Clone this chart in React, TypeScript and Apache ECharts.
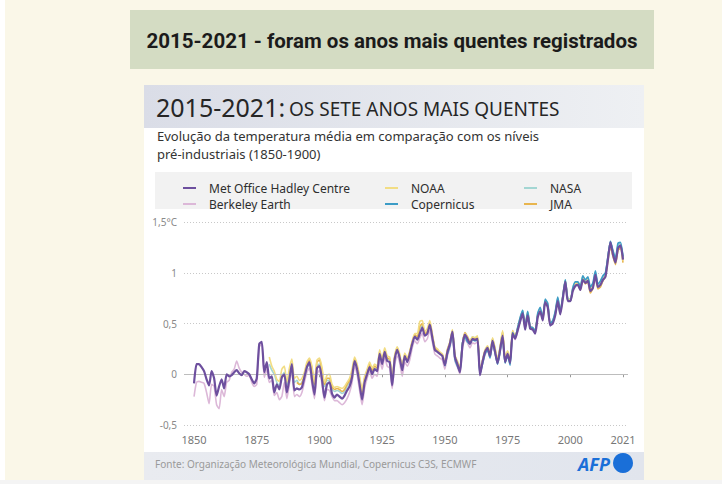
import React, { useEffect, useRef } from "react";
import * as echarts from "echarts";

const xTickYears = [1850, 1875, 1900, 1925, 1950, 1975, 2000, 2021];

const seriesNames = ["Met Office Hadley Centre", "Berkeley Earth", "NOAA", "Copernicus", "NASA", "JMA"];

const metOfficeStart = 1850;
const metOffice = [
  -0.09, 0.10, 0.10, 0.07, 0.03, -0.05, -0.11, 0.03, -0.04, -0.21,
  -0.12, -0.05, -0.14, 0.00, -0.02, -0.01, 0.02, 0.04, 0.01, -0.01,
  0.03, 0.02, 0.00, -0.05, -0.09, -0.04, 0.30, 0.32, 0.02, 0.12,
  -0.04, -0.02, -0.18, -0.10, -0.15, -0.03, 0.00, -0.18, -0.05, 0.10,
  -0.16, -0.14, -0.15, -0.13, -0.03, 0.07, 0.12, -0.05, -0.20, 0.06,
  0.08, -0.05, -0.23, -0.10, -0.08, -0.19, -0.23, -0.20, -0.22, -0.24,
  -0.21, -0.16, -0.12, -0.03, 0.13, 0.05, -0.10, -0.25, -0.08, 0.00,
  0.07, 0.00, 0.05, 0.03, 0.20, 0.10, 0.22, 0.13, 0.12, -0.11,
  0.15, 0.24, 0.16, 0.04, 0.18, 0.12, 0.20, 0.30, 0.37, 0.34,
  0.40, 0.46, 0.38, 0.40, 0.49, 0.36, 0.24, 0.22, 0.20, 0.18,
  0.09, 0.22, 0.30, 0.42, 0.17, 0.10, 0.02, 0.28, 0.39, 0.35,
  0.30, 0.35, 0.34, 0.35, -0.01, 0.12, 0.22, 0.26, 0.18, 0.33,
  0.22, 0.11, 0.24, 0.38, 0.12, 0.20, 0.11, 0.40, 0.35, 0.43,
  0.52, 0.60, 0.44, 0.58, 0.45, 0.44, 0.40, 0.56, 0.62, 0.53,
  0.71, 0.66, 0.48, 0.50, 0.58, 0.72, 0.59, 0.74, 0.91, 0.72,
  0.72, 0.82, 0.87, 0.88, 0.83, 0.93, 0.90, 0.92, 0.82, 0.85,
  0.98, 0.86, 0.88, 0.93, 0.96, 1.13, 1.30, 1.18, 1.10, 1.24,
  1.27, 1.13,
];

const berkeleyStart = 1850;
const berkeley = [
  -0.22, -0.08, -0.07, -0.08, -0.09, -0.18, -0.29, -0.10, -0.12, -0.30,
  -0.34, -0.15, -0.22, -0.08, -0.06, 0.02, 0.05, 0.13, 0.06, 0.02,
  0.00, -0.02, -0.01, -0.08, -0.12, -0.10, 0.27, 0.30, -0.03, 0.05,
  -0.08, -0.06, -0.21, -0.18, -0.25, -0.22, -0.08, -0.24, -0.10, 0.04,
  -0.22, -0.20, -0.22, -0.18, -0.08, 0.02, 0.06, -0.10, -0.24, 0.00,
  0.04, -0.10, -0.26, -0.15, -0.16, -0.22, -0.26, -0.26, -0.28, -0.30,
  -0.28, -0.24, -0.18, -0.08, 0.08, 0.00, -0.16, -0.30, -0.14, -0.04,
  0.03, -0.04, 0.00, -0.02, 0.14, 0.05, 0.17, 0.08, 0.06, -0.14,
  0.10, 0.18, 0.11, -0.02, 0.12, 0.08, 0.14, 0.26, 0.33, 0.30,
  0.36, 0.40, 0.32, 0.35, 0.43, 0.32, 0.20, 0.18, 0.16, 0.14,
  0.05, 0.18, 0.26, 0.37, 0.13, 0.07, 0.00, 0.25, 0.34, 0.31,
  0.26, 0.31, 0.30, 0.32, 0.02, 0.10, 0.19, 0.23, 0.16, 0.30,
  0.21, 0.10, 0.22, 0.36, 0.12, 0.19, 0.12, 0.40, 0.34, 0.43,
  0.53, 0.60, 0.46, 0.59, 0.46, 0.45, 0.42, 0.57, 0.64, 0.54,
  0.72, 0.68, 0.49, 0.52, 0.60, 0.74, 0.61, 0.75, 0.92, 0.74,
  0.73, 0.84, 0.89, 0.89, 0.84, 0.95, 0.91, 0.94, 0.84, 0.87,
  1.00, 0.88, 0.90, 0.95, 0.98, 1.15, 1.31, 1.20, 1.12, 1.26,
  1.28, 1.15,
];

const noaaStart = 1880;
const noaa = [
  0.17, 0.08, 0.03, -0.05, -0.07, 0.05, 0.08, -0.08, 0.06, 0.15,
  -0.04, -0.02, -0.06, -0.04, 0.02, 0.12, 0.16, 0.08, -0.08, 0.14,
  0.16, 0.07, -0.08, -0.01, 0.00, -0.10, -0.13, -0.12, -0.13, -0.14,
  -0.12, -0.08, -0.04, 0.05, 0.17, 0.10, -0.02, -0.16, -0.02, 0.05,
  0.12, 0.06, 0.10, 0.08, 0.24, 0.15, 0.26, 0.18, 0.17, -0.05,
  0.19, 0.27, 0.20, 0.08, 0.21, 0.16, 0.23, 0.33, 0.40, 0.40,
  0.52, 0.53, 0.42, 0.45, 0.53, 0.40, 0.27, 0.25, 0.22, 0.20,
  0.12, 0.25, 0.32, 0.44, 0.19, 0.13, 0.06, 0.30, 0.40, 0.37,
  0.33, 0.37, 0.36, 0.38, 0.04, 0.14, 0.24, 0.28, 0.21, 0.36,
  0.26, 0.15, 0.27, 0.43, 0.16, 0.23, 0.14, 0.43, 0.37, 0.45,
  0.55, 0.61, 0.47, 0.61, 0.47, 0.46, 0.43, 0.58, 0.64, 0.55,
  0.72, 0.68, 0.50, 0.52, 0.60, 0.74, 0.61, 0.77, 0.92, 0.74,
  0.73, 0.84, 0.89, 0.90, 0.84, 0.95, 0.91, 0.93, 0.83, 0.87,
  0.99, 0.86, 0.88, 0.93, 0.97, 1.14, 1.28, 1.18, 1.10, 1.24,
  1.26, 1.12,
];

const nasaStart = 1880;
const nasa = [
  0.10, 0.04, 0.00, -0.08, -0.12, -0.02, 0.02, -0.12, 0.02, 0.10,
  -0.08, -0.06, -0.10, -0.08, -0.02, 0.06, 0.10, 0.04, -0.12, 0.08,
  0.10, 0.02, -0.12, -0.06, -0.06, -0.14, -0.17, -0.16, -0.17, -0.19,
  -0.17, -0.12, -0.08, 0.00, 0.14, 0.07, -0.06, -0.20, -0.05, 0.02,
  0.08, 0.03, 0.06, 0.05, 0.21, 0.12, 0.23, 0.15, 0.14, -0.08,
  0.16, 0.25, 0.17, 0.05, 0.19, 0.13, 0.21, 0.31, 0.37, 0.36,
  0.45, 0.48, 0.39, 0.41, 0.50, 0.37, 0.25, 0.23, 0.20, 0.18,
  0.10, 0.23, 0.31, 0.43, 0.18, 0.11, 0.04, 0.30, 0.40, 0.36,
  0.32, 0.37, 0.36, 0.37, 0.02, 0.13, 0.23, 0.27, 0.19, 0.35,
  0.24, 0.13, 0.25, 0.41, 0.14, 0.22, 0.13, 0.42, 0.37, 0.45,
  0.55, 0.63, 0.47, 0.61, 0.47, 0.46, 0.43, 0.59, 0.65, 0.55,
  0.73, 0.69, 0.50, 0.53, 0.61, 0.75, 0.62, 0.76, 0.93, 0.75,
  0.74, 0.85, 0.91, 0.91, 0.86, 0.97, 0.92, 0.95, 0.85, 0.88,
  1.01, 0.88, 0.90, 0.95, 0.99, 1.16, 1.31, 1.21, 1.13, 1.27,
  1.29, 1.15,
];

const jmaStart = 1891;
const jma = [
  -0.08, -0.10, -0.09, 0.00, 0.10, 0.14, 0.06, -0.10, 0.12,
  0.14, 0.04, -0.10, -0.04, -0.04, -0.12, -0.15, -0.14, -0.15, -0.17,
  -0.15, -0.10, -0.06, 0.02, 0.15, 0.08, -0.04, -0.18, -0.04, 0.03,
  0.10, 0.04, 0.08, 0.06, 0.22, 0.13, 0.24, 0.16, 0.15, -0.07,
  0.17, 0.26, 0.18, 0.06, 0.20, 0.14, 0.22, 0.32, 0.39, 0.37,
  0.47, 0.50, 0.40, 0.42, 0.51, 0.38, 0.26, 0.24, 0.21, 0.19,
  0.11, 0.24, 0.31, 0.43, 0.18, 0.12, 0.05, 0.30, 0.41, 0.37,
  0.32, 0.36, 0.35, 0.37, 0.03, 0.13, 0.23, 0.27, 0.20, 0.35,
  0.25, 0.14, 0.26, 0.42, 0.15, 0.22, 0.13, 0.43, 0.37, 0.45,
  0.54, 0.61, 0.46, 0.60, 0.46, 0.45, 0.42, 0.58, 0.63, 0.54,
  0.72, 0.67, 0.49, 0.51, 0.59, 0.73, 0.60, 0.76, 0.91, 0.73,
  0.72, 0.83, 0.88, 0.89, 0.83, 0.94, 0.89, 0.91, 0.80, 0.85,
  0.97, 0.84, 0.86, 0.92, 0.96, 1.12, 1.26, 1.16, 1.08, 1.22,
  1.24, 1.10,
];

const copernicusStart = 1950;
const copernicus = [
  0.08, 0.20, 0.28, 0.40, 0.15, 0.08, 0.03, 0.31, 0.37, 0.32,
  0.30, 0.34, 0.33, 0.34, 0.00, 0.10, 0.20, 0.24, 0.16, 0.32,
  0.21, 0.10, 0.22, 0.37, 0.11, 0.18, 0.09, 0.41, 0.36, 0.46,
  0.56, 0.63, 0.47, 0.62, 0.47, 0.46, 0.43, 0.60, 0.66, 0.55,
  0.74, 0.70, 0.50, 0.53, 0.62, 0.76, 0.62, 0.77, 0.93, 0.73,
  0.72, 0.85, 0.91, 0.91, 0.86, 0.97, 0.93, 0.96, 0.86, 0.90,
  1.02, 0.89, 0.92, 0.97, 1.00, 1.16, 1.31, 1.22, 1.14, 1.29,
  1.30, 1.16,
];

const lineColors = {
  metOffice: "#6d4f9e",
  berkeley: "#dcb8d8",
  noaa: "#f2dd84",
  copernicus: "#3c9cc6",
  nasa: "#a3d6d3",
  jma: "#e8b54e",
};

const toPairs = (start: number, values: number[]) => values.map((v, i) => [start + i, v]);

const FONT = "'Noto Sans', sans-serif";

function buildOption() {
  const mkSeries = (name: string, start: number, values: number[], color: string, width: number, z: number) => ({
    name,
    type: "line",
    data: toPairs(start, values),
    showSymbol: false,
    symbol: "none",
    smooth: 0.2,
    color,
    z,
    lineStyle: { color, width },
    emphasis: { disabled: true },
  });

  const legendBase = {
    orient: "vertical",
    top: 176,
    icon: "rect",
    itemWidth: 13,
    itemHeight: 2,
    itemGap: 2,
    selectedMode: false,
    textStyle: { fontFamily: FONT, fontSize: 12, color: "#2e2e2e", lineHeight: 14, padding: [0, 0, 0, 8] },
  };

  return {
    animation: false,
    backgroundColor: "#ffffff",
    textStyle: { fontFamily: FONT },
    graphic: [
      { type: "rect", z: 0, shape: { x: 0, y: 0, width: 722, height: 484 }, style: { fill: "#faf7e8" } },
      { type: "rect", z: 0, shape: { x: 0, y: 0, width: 5, height: 484 }, style: { fill: "#ffffff" } },
      { type: "rect", z: 0, shape: { x: 0, y: 480, width: 722, height: 4 }, style: { fill: "#f4f4f4" } },
      { type: "rect", z: 0, shape: { x: 130, y: 10, width: 524, height: 59 }, style: { fill: "#d4dcc3" } },
      {
        type: "text", z: 1, x: 392, y: 41,
        style: { text: "2015-2021 - foram os anos mais quentes registrados", fill: "#1b1b1b", font: "bold 20.5px Roboto, sans-serif", align: "center", verticalAlign: "middle" },
      },
      { type: "rect", z: 0, shape: { x: 144, y: 85, width: 500, height: 395 }, style: { fill: "#ffffff" } },
      {
        type: "rect", z: 0, shape: { x: 144, y: 85, width: 500, height: 43 },
        style: { fill: new echarts.graphic.LinearGradient(0, 0, 1, 0, [{ offset: 0, color: "#dadde7" }, { offset: 1, color: "#eef0f3" }]) },
      },
      {
        type: "text", z: 1, x: 156, y: 107,
        style: { text: "2015-2021:", fill: "#262626", font: "25px 'Noto Sans', sans-serif", verticalAlign: "middle" },
      },
      {
        type: "text", z: 1, x: 289, y: 109,
        style: { text: "OS SETE ANOS MAIS QUENTES", fill: "#262626", font: "19px 'Noto Sans', sans-serif", verticalAlign: "middle" },
      },
      {
        type: "text", z: 1, x: 157, y: 136,
        style: { text: "Evolução da temperatura média em comparação com os níveis", fill: "#333", font: "13px 'Noto Sans', sans-serif", verticalAlign: "middle" },
      },
      {
        type: "text", z: 1, x: 157, y: 154,
        style: { text: "pré-industriais (1850-1900)", fill: "#333", font: "13px 'Noto Sans', sans-serif", verticalAlign: "middle" },
      },
      { type: "rect", z: 0, shape: { x: 155, y: 172, width: 477, height: 37 }, style: { fill: "#f2f2f2" } },
      {
        type: "rect", z: 0, shape: { x: 144, y: 452, width: 500, height: 28 },
        style: { fill: new echarts.graphic.LinearGradient(0, 0, 1, 0, [{ offset: 0, color: "#e9ebf0" }, { offset: 1, color: "#e1e5ed" }]) },
      },
      {
        type: "text", z: 1, x: 155, y: 464,
        style: { text: "Fonte: Organização Meteorológica Mundial, Copernicus C3S, ECMWF", fill: "#9a9a9a", font: "10px 'Noto Sans', sans-serif", verticalAlign: "middle" },
      },
      {
        type: "text", z: 1, x: 578, y: 464,
        style: { text: "AFP", fill: "#1a6fd8", font: "italic bold 18px 'Noto Sans', sans-serif", verticalAlign: "middle" },
      },
      { type: "circle", z: 1, shape: { cx: 623, cy: 463, r: 10 }, style: { fill: "#1a6fd8" } },
    ],
    legend: [
      { ...legendBase, left: 178, data: [seriesNames[0], seriesNames[1]] },
      { ...legendBase, left: 380, data: [seriesNames[2], seriesNames[3]] },
      { ...legendBase, left: 519, data: [seriesNames[4], seriesNames[5]] },
    ],
    grid: { left: 184, right: 94, top: 222, bottom: 59, containLabel: false },
    xAxis: {
      type: "value",
      min: 1846,
      max: 2023,
      z: 3,
      axisLine: { show: false },
      splitLine: { show: false },
      axisTick: { show: true, customValues: xTickYears, length: 3, lineStyle: { color: "#999" } },
      axisLabel: {
        customValues: xTickYears,
        formatter: (v: number) => String(v),
        color: "#777",
        fontSize: 11,
        fontFamily: FONT,
        margin: 9,
      },
    },
    yAxis: {
      type: "value",
      min: -0.5,
      max: 1.5,
      interval: 0.5,
      z: 3,
      axisLine: { show: false },
      axisTick: { show: false },
      splitLine: { show: true, lineStyle: { color: "#c8c8c8", type: [1, 2], width: 1 } },
      axisLabel: {
        formatter: (v: number) => (v === 1.5 ? "1,5°C" : String(v).replace(".", ",")),
        color: "#8a8a8a",
        fontSize: 10,
        fontFamily: FONT,
        margin: 7,
      },
    },
    series: [
      {
        name: "zero",
        type: "line",
        data: [],
        z: 3,
        silent: true,
        markLine: {
          silent: true,
          symbol: "none",
          label: { show: false },
          lineStyle: { color: "#bdbdbd", type: "solid", width: 1 },
          data: [{ yAxis: 0 }],
        },
      },
      mkSeries(seriesNames[1], berkeleyStart, berkeley, lineColors.berkeley, 1.6, 4),
      mkSeries(seriesNames[4], nasaStart, nasa, lineColors.nasa, 1.6, 4),
      mkSeries(seriesNames[5], jmaStart, jma, lineColors.jma, 1.6, 4),
      mkSeries(seriesNames[2], noaaStart, noaa, lineColors.noaa, 1.6, 4),
      mkSeries(seriesNames[3], copernicusStart, copernicus, lineColors.copernicus, 1.6, 4),
      mkSeries(seriesNames[0], metOfficeStart, metOffice, lineColors.metOffice, 2.2, 5),
    ],
  };
}

export default function App() {
  const ref = useRef<HTMLDivElement>(null);
  useEffect(() => {
    if (!ref.current) return;
    const chart = echarts.init(ref.current, undefined, { renderer: "svg" });
    chart.setOption(buildOption() as any);
    return () => chart.dispose();
  }, []);
  return <div ref={ref} style={{ position: "fixed", left: 0, top: 0, width: 722, height: 484 }} />;
}
